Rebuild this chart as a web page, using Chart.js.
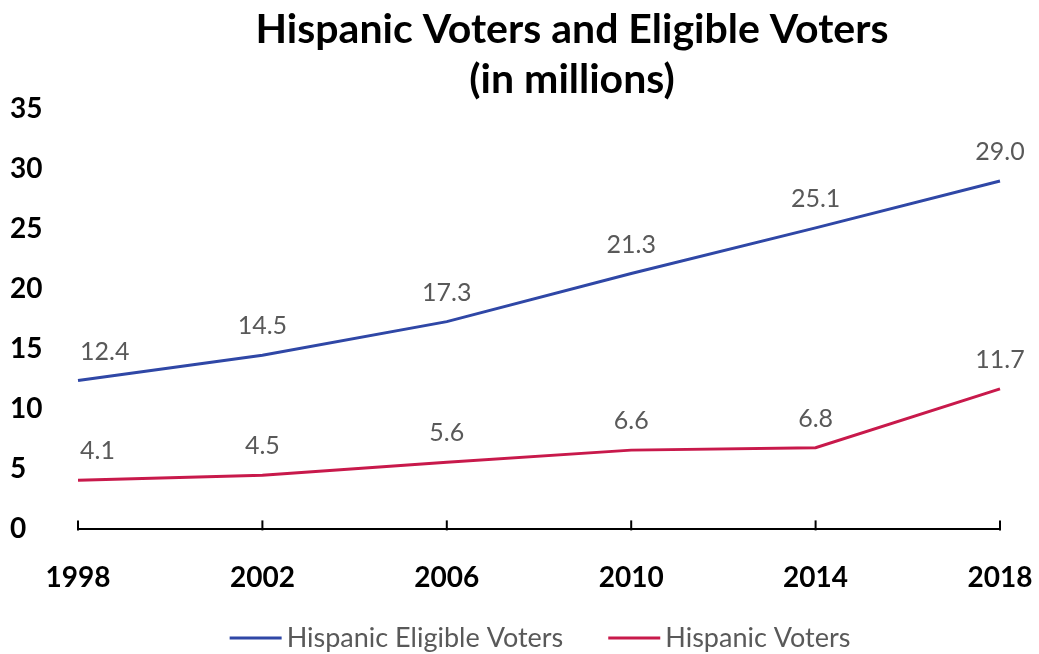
<!DOCTYPE html>
<html>
<head>
<meta charset="utf-8">
<script src="https://cdn.jsdelivr.net/npm/chart.js@4/dist/chart.umd.min.js"></script>
<style>
  html, body { margin: 0; padding: 0; background: #fff; }
  #wrap { width: 1039px; height: 654px; }
</style>
</head>
<body>
<div id="wrap"><canvas id="chart"></canvas></div>
<script>
const years = ['1998', '2002', '2006', '2010', '2014', '2018'];
const eligibleVoters = [12.4, 14.5, 17.3, 21.3, 25.1, 29.0];
const voters = [4.1, 4.5, 5.6, 6.6, 6.8, 11.7];
const yTicks = [0, 5, 10, 15, 20, 25, 30, 35];
const titleLines = ['Hispanic Voters and Eligible Voters', '(in millions)'];

const FONT = "Lato, 'Open Sans', sans-serif";

// title drawn by hand so it can sit right of centre like the original
const titlePlugin = {
    id: 'titlePlugin',
    afterDraw(chart) {
        const ctx = chart.ctx;
        ctx.save();
        ctx.font = 'bold 41px ' + FONT;
        ctx.fillStyle = '#000';
        ctx.textAlign = 'center';
        ctx.textBaseline = 'middle';
        ctx.fillText(titleLines[0], 572, 30);
        ctx.fillText(titleLines[1], 572, 80);
        ctx.restore();
    }
};

// legend along the bottom, Excel style (line right against the text)
const bottomLegend = {
    id: 'bottomLegend',
    afterDraw(chart) {
        const ctx = chart.ctx;
        const sets = chart.data.datasets;
        const lineW = 52, gap = 5, itemGap = 45, y = 638;
        ctx.save();
        ctx.font = '27px ' + FONT;
        ctx.textBaseline = 'middle';
        ctx.textAlign = 'left';
        const widths = sets.map(ds => ctx.measureText(ds.label).width);
        const total = widths.reduce((s, w) => s + lineW + gap + w, 0) + itemGap * (sets.length - 1);
        let x = 540 - total / 2;
        sets.forEach((ds, i) => {
            ctx.strokeStyle = ds.borderColor;
            ctx.lineWidth = 3;
            ctx.beginPath();
            ctx.moveTo(x, y);
            ctx.lineTo(x + lineW, y);
            ctx.stroke();
            ctx.fillStyle = '#595959';
            ctx.fillText(ds.label, x + lineW + gap, y);
            x += lineW + gap + widths[i] + itemGap;
        });
        ctx.restore();
    }
};

// value labels above each point, kept inside the plot area
const valueLabels = {
    id: 'valueLabels',
    afterDatasetsDraw(chart) {
        const ctx = chart.ctx;
        const area = chart.chartArea;
        ctx.save();
        ctx.font = '25px ' + FONT;
        ctx.fillStyle = '#595959';
        ctx.textAlign = 'center';
        ctx.textBaseline = 'middle';
        chart.data.datasets.forEach((ds, i) => {
            chart.getDatasetMeta(i).data.forEach((pt, j) => {
                const txt = ds.data[j].toFixed(1);
                const half = ctx.measureText(txt).width / 2;
                const x = Math.max(pt.x, area.left + half + 2);
                ctx.fillText(txt, x, pt.y - 29);
            });
        });
        ctx.restore();
    }
};

// small tick marks pointing up from the x axis
const axisTicks = {
    id: 'axisTicks',
    afterDraw(chart) {
        const x = chart.scales.x;
        const ctx = chart.ctx;
        ctx.save();
        ctx.strokeStyle = '#000';
        ctx.lineWidth = 2;
        years.forEach((y, i) => {
            const px = x.getPixelForValue(i);
            ctx.beginPath();
            ctx.moveTo(px, x.top + 1);
            ctx.lineTo(px, x.top - 9);
            ctx.stroke();
        });
        ctx.restore();
    }
};

new Chart(document.getElementById('chart'), {
    type: 'line',
    data: {
        labels: years,
        datasets: [{
            label: 'Hispanic Eligible Voters',
            data: eligibleVoters,
            borderColor: '#2F47A6',
            backgroundColor: '#2F47A6',
            borderWidth: 3,
            pointRadius: 0,
            tension: 0
        }, {
            label: 'Hispanic Voters',
            data: voters,
            borderColor: '#C8194B',
            backgroundColor: '#C8194B',
            borderWidth: 3,
            pointRadius: 0,
            tension: 0
        }]
    },
    options: {
        responsive: true,
        maintainAspectRatio: false,
        animation: false,
        layout: { padding: { top: 109, left: 10, right: 39, bottom: 35 } },
        plugins: {
            title: { display: false },
            legend: { display: false },
            tooltip: { enabled: false }
        },
        scales: {
            x: {
                offset: false,
                grid: { display: false },
                border: { display: true, color: '#000', width: 2 },
                afterFit(scale) { scale.paddingLeft = 0; scale.paddingRight = 0; },
                ticks: {
                    color: '#000',
                    font: { family: FONT, size: 28, weight: 'bold' },
                    padding: 24,
                    maxRotation: 0
                }
            },
            y: {
                min: 0,
                max: 35,
                afterBuildTicks(scale) {
                    scale.ticks = yTicks.map(v => ({ value: v }));
                },
                grid: { display: false },
                border: { display: false },
                afterFit(scale) { scale.width = 68; },
                ticks: {
                    color: '#000',
                    crossAlign: 'far',
                    font: { family: FONT, size: 28, weight: 'bold' }
                }
            }
        }
    },
    plugins: [valueLabels, axisTicks, titlePlugin, bottomLegend]
});
</script>
</body>
</html>
